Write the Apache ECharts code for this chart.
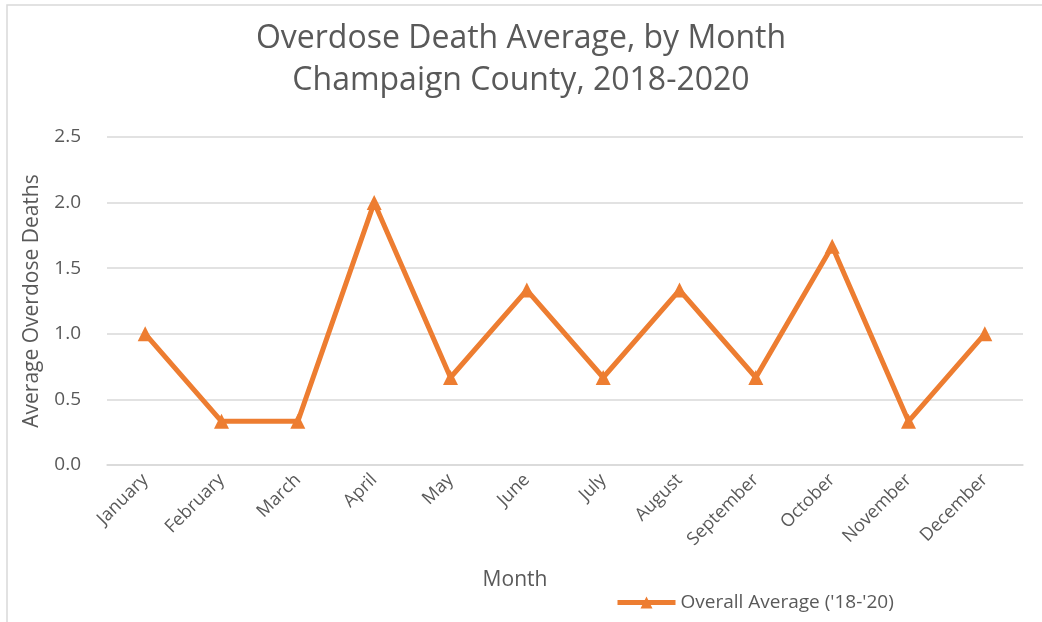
<!DOCTYPE html>
<html>
<head>
<meta charset="utf-8">
<script src="https://cdn.jsdelivr.net/npm/echarts@6/dist/echarts.min.js"></script>
<style>
  html, body { margin: 0; padding: 0; background: #fff; }
  #chart { width: 1042px; height: 622px; }
</style>
</head>
<body>
<div id="chart"></div>
<script>
// 数据
var months = ['January', 'February', 'March', 'April', 'May', 'June', 'July', 'August', 'September', 'October', 'November', 'December'];
var avgDeaths = [1.0, 0.333, 0.333, 2.0, 0.667, 1.333, 0.667, 1.333, 0.667, 1.667, 0.333, 1.0];
var yTicks = [0, 0.5, 1.0, 1.5, 2.0, 2.5];
var seriesName = "Overall Average ('18-'20)";

var font = 'Open Sans';
var textColor = '#595959';

var chart = echarts.init(document.getElementById('chart'));
var option = {
    backgroundColor: '#fff',
    animation: false,
    title: {
        text: 'Overdose Death Average, by Month\nChampaign County, 2018-2020',
        left: 'center',
        top: 13,
        textStyle: {
            fontFamily: font,
            fontSize: 32,
            fontWeight: 'normal',
            color: textColor,
            lineHeight: 42
        }
    },
    legend: {
        data: [seriesName],
        left: 610,
        top: 588,
        itemWidth: 58,
        itemHeight: 15,
        itemGap: 4,
        lineStyle: { width: 5 },
        textStyle: { fontFamily: font, fontSize: 19, color: textColor }
    },
    graphic: [{
        // 外边框
        type: 'rect',
        shape: { x: 7, y: 5, width: 1100, height: 700 },
        style: { fill: 'none', stroke: '#d9d9d9', lineWidth: 1.5 },
        silent: true
    }],
    grid: {
        left: 107,
        right: 19,
        top: 137,
        bottom: 157
    },
    xAxis: {
        type: 'category',
        data: months,
        boundaryGap: true,
        name: 'Month',
        nameLocation: 'middle',
        nameGap: 105,
        nameTextStyle: { fontFamily: font, fontSize: 21, color: textColor, padding: [0, 100, 0, 0] },
        axisLine: { lineStyle: { color: '#d9d9d9', width: 1.5 } },
        axisTick: { show: false },
        axisLabel: {
            rotate: 45,
            margin: 12,
            interval: 0,
            fontFamily: font,
            fontSize: 18,
            color: textColor
        }
    },
    yAxis: {
        type: 'value',
        min: yTicks[0],
        max: yTicks[yTicks.length - 1],
        interval: 0.5,
        name: 'Average Overdose Deaths',
        nameLocation: 'middle',
        nameGap: 64,
        nameTextStyle: { fontFamily: font, fontSize: 21, color: textColor },
        axisLine: { show: false },
        axisTick: { show: false },
        splitLine: { lineStyle: { color: '#d9d9d9', width: 1.5 } },
        axisLabel: {
            margin: 26,
            fontFamily: font,
            fontSize: 19,
            color: textColor,
            formatter: function(v) { return v.toFixed(1); }
        }
    },
    series: [{
        name: seriesName,
        type: 'line',
        data: avgDeaths,
        symbol: 'triangle',
        symbolSize: 15,
        itemStyle: { color: '#ed7d31' },
        lineStyle: { color: '#ed7d31', width: 5, join: 'round' }
    }]
};
chart.setOption(option);
</script>
</body>
</html>
